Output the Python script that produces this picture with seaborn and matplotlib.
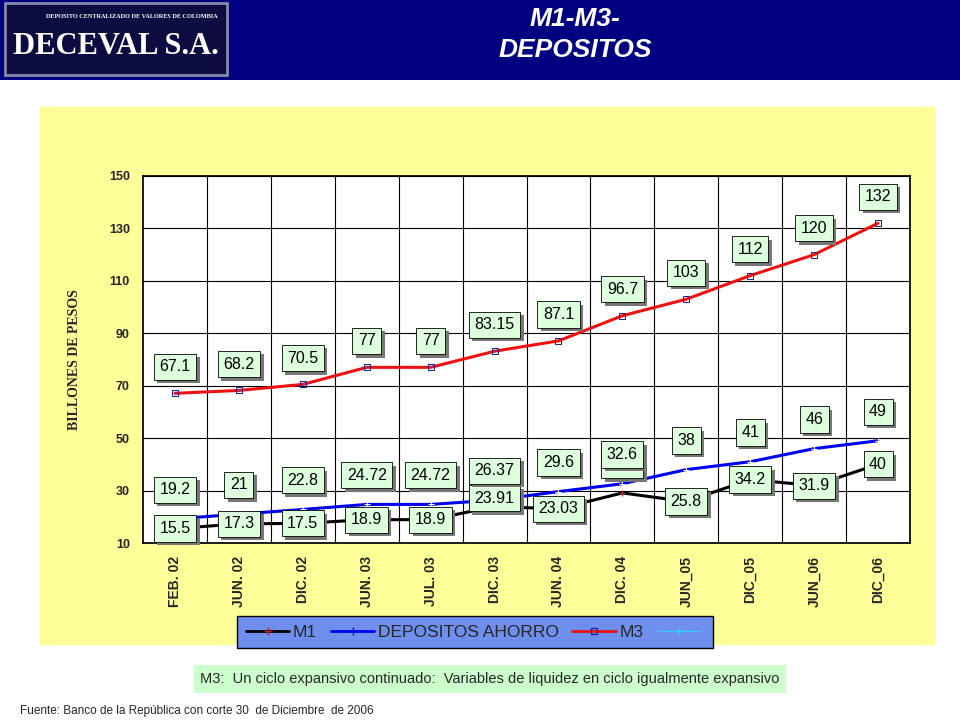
import matplotlib
matplotlib.use("Agg")
import matplotlib.pyplot as plt
import matplotlib.patheffects as pe
import seaborn as sns
import pandas as pd
from matplotlib.patches import Rectangle
from matplotlib.lines import Line2D

periodos = ["FEB. 02", "JUN. 02", "DIC. 02", "JUN. 03", "JUL. 03", "DIC. 03",
            "JUN. 04", "DIC. 04", "JUN_05", "DIC_05", "JUN_06", "DIC_06"]
m1 = [15.5, 17.3, 17.5, 18.9, 18.9, 23.91, 23.03, 29.1, 25.8, 34.2, 31.9, 40]
ahorro = [19.2, 21, 22.8, 24.72, 24.72, 26.37, 29.6, 32.6, 38, 41, 46, 49]
m3 = [67.1, 68.2, 70.5, 77, 77, 83.15, 87.1, 96.7, 103, 112, 120, 132]
m1_txt = ["15.5", "17.3", "17.5", "18.9", "18.9", "23.91", "23.03", "29.1", "25.8", "34.2", "31.9", "40"]
ahorro_txt = ["19.2", "21", "22.8", "24.72", "24.72", "26.37", "29.6", "32.6", "38", "41", "46", "49"]
m3_txt = ["67.1", "68.2", "70.5", "77", "77", "83.15", "87.1", "96.7", "103", "112", "120", "132"]

# desplazamiento vertical de etiquetas (puntos)
m1_off = [0, 0, 0, 0, 0, 6, 0, 20, 0, 0, 0, 0]
ahorro_off = [21] * 12
m3_off = [19] * 12

sns.set_theme(style="white")
plt.rcParams["font.family"] = "Liberation Sans"

fig = plt.figure(figsize=(9.6, 7.2), dpi=100)
fig.patch.set_facecolor("white")

# encabezado
fig.add_artist(Rectangle((0, 1 - 80 / 720), 1, 80 / 720, transform=fig.transFigure,
                         fc="#000080", ec="none"))
fig.add_artist(Rectangle((5 / 960, 1 - 75 / 720), 222 / 960, 72 / 720, transform=fig.transFigure,
                         fc="#0c0c40", ec="#8888aa", lw=2))
fig.text(132 / 960, 1 - 16 / 720, "DEPOSITO CENTRALIZADO DE VALORES DE COLOMBIA", color="white",
         fontsize=4.5, family="Liberation Serif", weight="bold", ha="center", va="center")
fig.text(116 / 960, 1 - 46 / 720, "DECEVAL S.A.", color="white", fontsize=22,
         family="Liberation Serif", weight="bold", ha="center", va="center")
fig.text(575 / 960, 1 - 19 / 720, "M1-M3-", color="white", fontsize=19, weight="bold",
         style="italic", ha="center", va="center")
fig.text(575 / 960, 1 - 50 / 720, "DEPOSITOS", color="white", fontsize=19, weight="bold",
         style="italic", ha="center", va="center")

# panel amarillo
fig.add_artist(Rectangle((40 / 960, 1 - 645 / 720), 895 / 960, 538 / 720, transform=fig.transFigure,
                         fc="#ffff99", ec="none", zorder=0))

ax = fig.add_axes([143 / 960, 1 - 543 / 720, 767 / 960, 367 / 720])
ax.set_facecolor("white")

df = pd.DataFrame({"periodo": periodos, "M1": m1, "DEPOSITOS AHORRO": ahorro, "M3": m3})
df["x"] = range(len(df))
sns.lineplot(data=df, x="x", y="M1", ax=ax, color="black", lw=2.2, marker="+", ms=5, mec="#aa2222")
sns.lineplot(data=df, x="x", y="DEPOSITOS AHORRO", ax=ax, color="#0000ee", lw=2.2, marker="+", ms=5)
sns.lineplot(data=df, x="x", y="M3", ax=ax, color="#ee1111", lw=2.2, marker="s", ms=4,
             mfc="none", mec="#222299")

ax.set_xlim(-0.5, len(df) - 0.5)
ax.set_ylim(10, 150)
ax.set_yticks(range(10, 151, 20))
ax.set_xticks(range(len(df)))
ax.set_xticklabels(periodos, rotation=90, fontsize=10, weight="bold")
ax.tick_params(axis="y", labelsize=9)
for t in ax.get_yticklabels():
    t.set_weight("bold")
ax.set_xticks([i + 0.5 for i in range(len(df) - 1)], minor=True)
ax.grid(True, which="major", axis="y", color="black", lw=0.8)
ax.grid(True, which="minor", axis="x", color="black", lw=0.8)
for s in ax.spines.values():
    s.set_color("black")
ax.set_xlabel("")
ax.set_ylabel("BILLONES DE PESOS", family="Liberation Serif", weight="bold", fontsize=10, labelpad=20)

sombra = [pe.SimplePatchShadow(offset=(2.5, -2.5), shadow_rgbFace="#777777", alpha=1), pe.Normal()]


def etiquetas(vals, txts, offs):
    for i, (v, t, o) in enumerate(zip(vals, txts, offs)):
        a = ax.annotate(t, (i, v), xytext=(0, o), textcoords="offset points", ha="center",
                        va="center", fontsize=11.5, color="black",
                        bbox=dict(boxstyle="square,pad=0.35", fc="#ddffdd", ec="black", lw=0.6),
                        zorder=6)
        a.get_bbox_patch().set_path_effects(sombra)


etiquetas(m1, m1_txt, m1_off)
etiquetas(ahorro, ahorro_txt, ahorro_off)
etiquetas(m3, m3_txt, m3_off)

handles = [Line2D([], [], color="black", lw=2, marker="+", mec="#aa2222"),
           Line2D([], [], color="#0000ee", lw=2, marker="+"),
           Line2D([], [], color="#ee1111", lw=2, marker="s", ms=5, mfc="none", mec="#222299"),
           Line2D([], [], color="#33ccff", lw=1, marker="+")]
leg = fig.legend(handles, ["M1", "DEPOSITOS AHORRO", "M3", ""], loc="center",
                 bbox_to_anchor=(475 / 960, 1 - 632 / 720), ncol=4, frameon=True, fontsize=12.5,
                 handlelength=2.5, handletextpad=0.2, columnspacing=0.8, borderpad=0.2)
leg.get_frame().set_facecolor("#6f8fef")
leg.get_frame().set_edgecolor("black")
leg.get_frame().set_alpha(1)
leg.get_frame().set_boxstyle("square")

fig.text(490 / 960, 1 - 679 / 720,
         "M3:  Un ciclo expansivo continuado:  Variables de liquidez en ciclo igualmente expansivo",
         fontsize=10.5, ha="center", va="center",
         bbox=dict(boxstyle="square,pad=0.45", fc="#ccffcc", ec="none"))
fig.text(20 / 960, 1 - 711 / 720, "Fuente: Banco de la República con corte 30  de Diciembre  de 2006",
         fontsize=8.5, ha="left", va="center")

fig.savefig("out.png", dpi=100)
